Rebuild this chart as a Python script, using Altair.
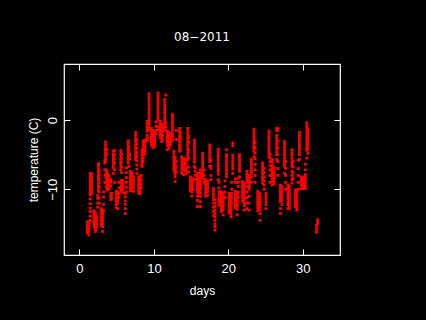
import altair as alt
import pandas as pd

x_ticks = [0, 10, 20, 30]
y_ticks = [0, -10]

column_days = [
 1.05, 1.25, 1.45, 1.45, 1.65, 1.95, 2.15, 2.3, 2.45, 2.55,
 2.65, 2.9, 3.1, 3.25, 3.4, 3.5, 3.6, 3.7, 3.95, 4.2,
 4.3, 4.55, 4.7, 4.95, 5.15, 5.3, 5.55, 5.65, 5.6, 5.85,
 6.15, 6.3, 6.55, 6.65, 6.75, 6.85, 7.05, 7.25, 7.55, 7.7,
 7.95, 8.15, 8.3, 8.4, 8.55, 8.8, 9.1, 9.35, 9.65, 9.85,
 10.1, 10.3, 10.55, 10.85, 11.05, 11.2, 11.45, 11.6, 11.8, 12.0,
 12.25, 12.5, 12.7, 12.85, 13.0, 13.45, 13.55, 13.75, 14.0, 14.3,
 14.55, 14.65, 14.9, 15.1, 15.25, 15.45, 15.55, 15.85, 16.05, 16.25,
 16.55, 16.75, 16.95, 17.2, 17.5, 17.65, 18.0, 18.2, 18.65, 18.75,
 19.05, 19.3, 19.55, 19.75, 20.1, 20.35, 20.45, 20.6, 20.95, 21.2,
 21.3, 21.5, 21.9, 22.15, 22.5, 22.8, 23.1, 23.45, 23.6, 23.95,
 24.25, 24.6, 24.8, 25.05, 25.45, 25.6, 25.9, 26.15, 26.5, 26.65,
 27.0, 27.2, 27.55, 27.7, 28.0, 28.2, 28.55, 28.7, 29.0, 29.2,
 29.4, 29.55, 29.8, 30.0, 30.2, 30.35, 30.55, 30.7, 31.85, 32.0,
]
column_temps = [
 [-14.7,-15.1,-15.5,-15.9,-16.3],
 [-14.9,-15.3,-15.7,-16.1,-16.6],
 [-10.8,-11.4,-12.1,-12.7,-13.2,-13.9,-14.5],
 [-7.7,-8.1,-8.5,-8.9,-9.3,-9.7,-10.1,-10.5],
 [-7.8,-8.2,-8.6,-9.0,-9.4,-9.8,-10.2,-10.6],
 [-13.1,-13.5,-13.9,-14.3,-14.7,-15.1,-15.5],
 [-13.4,-13.8,-14.2,-14.6,-15.0,-15.4,-15.8,-16.1],
 [-14.0,-14.5,-15.0,-15.5],
 [-10.9,-11.3,-12.0,-12.6],
 [-6.3,-6.7,-7.1,-7.5,-7.9,-8.3,-8.7,-9.1,-9.5,-9.9,-10.3],
 [-7.4,-7.9,-8.4,-9.0,-9.6,-10.4,-11.3,-12.0],
 [-12.8,-13.2,-13.6,-14.0,-14.4,-14.8,-15.2],
 [-13.0,-13.4,-13.8,-14.2,-14.6,-15.0,-15.4,-16.1],
 [-10.4,-11.1,-12.2,-13.1],
 [-5.8,-6.2,-7.2,-8.0,-9.0],
 [-3.2,-3.6,-4.0,-4.4,-4.8,-5.2,-5.6,-6.0],
 [-7.2,-7.7,-8.4,-9.1,-9.7],
 [-4.3,-4.9,-7.4,-7.8,-8.2,-8.6,-9.0,-9.4,-9.8,-10.1],
 [-8.0,-8.4,-8.8,-9.2,-9.6,-10.0],
 [-8.6,-9.0,-9.5,-10.6,-11.0,-11.5],
 [-10.6,-11.0,-11.4],
 [-4.5,-4.9,-5.3,-5.7,-6.1,-6.5,-6.9,-7.7],
 [-4.4,-5.0,-5.6,-6.2,-7.2,-9.0],
 [-10.3,-10.7,-11.1,-11.5,-11.9,-12.3,-12.7],
 [-10.4,-10.8,-11.2,-11.6,-12.0,-12.8],
 [-9.0,-9.8,-10.6,-11.2],
 [-4.4,-4.8,-5.2,-5.6,-6.0,-6.4,-6.8,-7.2],
 [-5.0,-5.5,-6.1,-6.8,-7.6],
 [-8.7,-9.1,-9.5,-9.9,-10.3],
 [-8.8,-9.2,-9.6,-10.0,-10.5],
 [-10.6,-11.1,-11.7,-12.2,-12.8,-13.5],
 [-6.9,-7.6,-8.3,-9.0,-9.7,-10.4],
 [-3.0,-3.4,-3.8,-4.2,-4.6,-5.0,-5.4,-5.8,-6.2],
 [-4.0,-4.6,-5.2,-6.7],
 [-5.0,-5.6],
 [-7.4,-7.8,-8.2,-8.6,-9.0,-9.4,-9.8,-10.2],
 [-7.6,-8.0,-8.4,-8.8,-9.2,-9.6,-10.1],
 [-8.2,-8.6,-9.0,-9.4,-9.8,-10.3],
 [-1.8,-2.2,-2.6,-3.0,-3.4,-3.8,-4.2,-4.6,-5.0,-5.4,-5.7],
 [-2.9,-3.5,-4.1,-4.7,-5.3,-5.9,-6.5,-7.1,-7.7],
 [-8.2,-8.6,-9.0,-9.4,-9.8,-10.2,-10.6],
 [-8.3,-8.7,-9.1,-9.5,-9.9,-10.3,-10.6],
 [-8.0,-8.6,-9.2,-9.8],
 [-4.4,-4.8,-5.2,-5.6,-6.0,-6.4,-6.7],
 [-3.0,-3.4,-3.8,-4.2,-4.6,-5.0,-5.5,-6.0],
 [-2.9,-3.3,-3.7,-4.1,-4.5,-4.9],
 [-0.2,-0.6,-1.0,-1.4,-1.6,-2.2,-2.6,-3.0],
 [3.8,3.4,3.0,2.6,2.2,1.8,1.4,1.0,0.6,0.2,-0.2,-0.6,-1.0,-1.4],
 [-1.2,-1.6,-2.0,-2.4,-2.8,-3.2,-3.6],
 [-1.5,-1.9,-2.3,-2.7,-3.1,-3.5,-4.0],
 [-1.8,-2.2,-2.6,-3.0,-3.4,-3.8],
 [-0.3,-0.9,-1.5,-2.0],
 [3.9,3.5,3.1,2.7,2.3,1.9,1.5,1.1,0.7,0.3,0.0,-1.0,-1.4],
 [-0.2,-0.6,-1.0,-1.4,-1.8,-2.2,-2.6],
 [-0.6,-1.0,-1.4,-1.8,-2.2,-2.6,-3.1],
 [-1.0,-1.6,-2.2,-2.8],
 [3.0,2.6,2.2,1.8,1.4,1.0,0.6,0.2,-0.2,-0.6,-1.0,-1.4],
 [3.6,-0.4,-1.0],
 [-1.6,-2.0,-2.4,-2.8,-3.2,-3.6,-4.3],
 [-1.8,-2.2,-2.6,-3.0,-3.4,-3.8,-4.1],
 [-2.0,-2.4,-2.8,-3.2,-3.6],
 [0.8,0.4,0.0,-0.4,-0.8,-1.2,-1.6,-2.0,-2.4,-2.9],
 [-4.5,-4.9,-5.3,-5.7,-6.1,-6.5,-6.9,-7.3],
 [-5.4,-5.8,-6.2,-6.6,-7.0,-7.4,-7.8,-8.2,-8.9],
 [-1.5,-2.8,-6.0,-6.8,-7.5],
 [-1.2,-1.6,-2.0,-2.4,-2.8,-3.2,-3.6,-4.0,-4.5],
 [-1.8,-2.4,-3.0,-3.7,-4.4],
 [-5.3,-5.7,-6.1,-6.5,-6.9,-7.3,-7.7],
 [-5.6,-6.0,-6.4,-6.8,-7.2,-7.9],
 [-5.7,-6.1,-6.5,-6.9,-7.3,-7.7],
 [-1.2,-1.6,-2.0,-2.4,-2.8,-3.2,-3.6,-4.0,-4.4,-4.8,-5.2,-5.7],
 [-2.4,-3.2,-4.3,-5.5,-6.8,-7.5],
 [-8.2,-8.6,-9.0,-9.4,-9.8,-10.2],
 [-8.4,-8.8,-9.2,-9.6,-10.0,-10.4,-11.0],
 [-8.5,-9.0,-9.5,-10.0],
 [-2.9,-3.3,-3.7,-4.1,-4.5,-4.9,-5.3,-5.7,-6.1,-6.7],
 [-6.9,-7.4,-8.0,-8.6],
 [-7.7,-8.1,-8.5,-8.9,-9.3,-9.7,-10.1,-10.5,-11.0,-11.6,-12.5],
 [-8.4,-8.8,-9.2,-9.6,-10.0,-10.4,-10.9],
 [-7.2,-7.6,-8.0,-8.4,-8.8,-9.2,-9.6,-10.0,-10.5,-11.0,-11.8,-12.5],
 [-4.8,-5.2,-5.6,-6.0,-6.4,-6.8,-7.2,-7.6,-8.0,-8.4],
 [-7.2,-8.0,-8.8,-9.1],
 [-8.6,-9.0,-9.4,-9.8,-10.2,-10.6,-11.0],
 [-8.8,-9.2,-9.6,-10.0,-10.4,-10.9],
 [-3.6,-4.0,-4.4,-4.8,-5.2,-5.6,-6.0,-6.7],
 [-5.8,-6.6,-7.0,-8.0,-8.6],
 [-9.9,-10.3,-10.7,-11.1,-11.5,-12.0,-12.6,-13.2,-13.8],
 [-11.5,-12.0,-12.5,-13.0,-13.5,-14.0,-14.5,-15.0,-15.4,-15.9],
 [-4.2,-4.6,-5.0,-5.4,-5.8,-6.2,-6.6,-7.0,-7.4,-7.8,-8.6],
 [-9.0,-9.8,-10.3,-10.7,-11.1,-11.5,-11.9,-12.3],
 [-10.4,-10.8,-11.2,-11.6,-12.0,-12.4,-12.8,-13.2],
 [-10.6,-11.0,-11.4,-11.8,-12.2,-12.6,-13.0,-13.7],
 [-8.8,-9.6,-10.4,-11.2],
 [-4.3,-5.0,-5.4,-5.8,-6.2,-6.6,-7.0,-7.4,-7.8,-8.2],
 [-10.6,-11.0,-11.4,-11.8,-12.2,-12.6,-13.0,-13.4],
 [-10.8,-11.2,-11.6,-12.0,-12.4,-12.8,-13.2,-13.6,-14.0],
 [-9.0,-10.0,-10.6,-11.2,-12.0],
 [-3.3,-3.7,-5.1,-5.5,-5.9,-6.3,-6.7,-7.1,-7.7],
 [-8.5,-9.0,-10.3,-10.7,-11.1,-11.5,-11.9,-12.3,-12.7],
 [-10.5,-10.9,-11.3,-11.7,-12.1,-12.5,-12.9,-13.7],
 [-8.4,-9.0,-9.6,-10.4,-11.2],
 [-5.0,-5.4,-5.8,-6.2,-6.6,-7.0,-7.4,-8.2],
 [-8.9,-9.3,-9.7,-10.1,-10.5,-10.9,-11.3,-11.7],
 [-9.2,-9.6,-10.0,-10.4,-10.8,-11.2,-11.6,-12.0,-12.4,-13.0],
 [-7.4,-7.8,-8.2,-8.6,-9.0,-9.6,-10.4,-11.2,-12.0,-12.8],
 [-8.0,-8.4,-8.8,-9.2,-9.6,-10.0,-11.0,-12.0,-13.0],
 [-5.7,-6.1,-6.5,-6.9,-7.3,-7.7,-8.2,-9.0],
 [-1.3,-1.7,-2.1,-2.5,-2.9,-3.3,-3.7,-4.1,-4.5,-5.3],
 [-3.2,-4.0,-4.8,-5.6,-6.4,-7.2,-8.0,-9.0],
 [-10.3,-10.7,-11.1,-11.5,-11.9,-12.3,-12.7,-13.1],
 [-10.6,-11.0,-11.4,-11.8,-12.2,-12.6,-13.0,-13.5,-14.5],
 [-6.2,-6.6,-7.0,-7.4,-7.8,-8.2,-8.6,-9.1],
 [-7.0,-7.6,-8.2,-8.8,-9.4,-10.0],
 [-10.6,-11.0,-11.4,-11.8,-12.2,-12.8],
 [-1.6,-2.0,-2.4,-2.8,-3.2,-3.6,-4.0,-4.4,-4.8,-5.3],
 [-5.0,-5.5,-6.0,-6.6,-7.2,-8.0,-9.0],
 [-5.7,-6.1,-6.5,-6.9,-7.3,-7.7,-8.1,-8.5,-8.9,-9.4],
 [-6.8,-7.2,-7.6,-8.0,-8.4,-8.8,-9.2],
 [-1.2,-1.5,-2.2,-2.6,-3.0,-3.4,-3.8,-4.2,-4.6,-5.0,-5.7],
 [-1.2,-1.5,-3.0,-4.0,-5.0,-6.0,-7.0,-8.0],
 [-9.4,-9.8,-10.2,-10.6,-11.0,-11.4,-11.8,-12.8,-13.5],
 [-9.6,-10.0,-10.4,-10.8,-11.2,-11.6,-12.2],
 [-3.1,-3.5,-3.9,-4.3,-4.7,-5.1,-5.5,-5.9,-6.3,-6.7,-7.7],
 [-6.0,-7.0,-8.0,-9.0,-10.0],
 [-9.4,-9.8,-10.2,-10.6,-11.0,-11.4,-11.8,-12.2,-12.8],
 [-9.6,-10.0,-10.4,-10.8,-11.2,-11.6,-12.0,-12.4,-12.8],
 [-4.3,-4.7,-5.1,-5.5,-5.9,-6.3,-6.7,-7.4,-8.0,-8.6,-9.1],
 [-6.0,-6.8,-7.6,-8.4],
 [-10.1,-10.5,-10.9,-11.3,-11.7,-12.1,-12.5],
 [-10.3,-10.7,-11.1,-11.5,-11.9,-12.3,-12.7,-13.0],
 [-5.8,-7.0,-8.0,-9.0,-10.0],
 [-1.8,-2.2,-2.6,-3.0,-3.4,-3.8,-4.2,-4.6,-5.0,-5.7],
 [-8.2,-8.6,-9.0,-9.4,-9.9],
 [-8.3,-8.7,-9.1,-9.5,-9.9],
 [-8.4,-8.8,-9.2,-9.6,-9.9],
 [-6.4,-7.2,-7.9,-8.3,-8.7,-9.1,-9.5,-9.9],
 [-0.4,-0.8,-1.2,-1.6,-2.0,-2.4,-2.8,-3.2,-3.6,-4.0,-4.4,-5.5],
 [-1.4,-1.8,-2.2,-2.6,-3.0,-3.4,-3.8,-4.2,-4.8],
 [-15.2,-15.6,-16.0,-16.2],
 [-14.4,-14.7,-15.0],
]
pairs = [(d, t) for d, col in zip(column_days, column_temps) for t in col]
data = pd.DataFrame(pairs, columns=["day", "temp"])

xs = alt.Scale(domain=[-2.08, 35.0], nice=False, zero=False)
ys = alt.Scale(domain=[-19.5, 8.1], nice=False, zero=False)
font = "Liberation Sans"
common = dict(grid=False, domain=False, tickColor="white", tickSize=6, tickWidth=1,
              offset=-6, labelColor="white", titleColor="white", labelFont=font, titleFont=font,
              labelFontSize=13, titleFontSize=12, titleFontWeight="normal")

points = alt.Chart(data).mark_square(color="#ff0000", size=8, opacity=1).encode(
    x=alt.X("day:Q", scale=xs, axis=alt.Axis(values=x_ticks, title="days", orient="bottom",
            labelPadding=7, titlePadding=10, labelFlush=False, **common)),
    y=alt.Y("temp:Q", scale=ys, axis=alt.Axis(values=y_ticks, title="temperature (C)", orient="left",
            labelAngle=-90, labelAlign="center", labelBaseline="bottom", labelPadding=5, titlePadding=6, **common)),
)
frame = alt.Chart(data).mark_point(opacity=0).encode(
    x=alt.X("day:Q", scale=xs, axis=alt.Axis(values=x_ticks, title=None, orient="top", labels=False,
            grid=False, domain=False, tickColor="white", tickSize=6, offset=-6)),
    y=alt.Y("temp:Q", scale=ys, axis=alt.Axis(values=y_ticks, title=None, orient="right", labels=False,
            grid=False, domain=False, tickColor="white", tickSize=6, offset=-6)),
)
chart = alt.layer(points, frame).resolve_axis(x="independent", y="independent").properties(
    width=276, height=191, background="black",
    padding={"left": 56, "top": 56, "right": 78, "bottom": 57},
    autosize=alt.AutoSizeParams(type="none"),
    title=alt.TitleParams("08\u22122011", color="white", font="DejaVu Sans", fontSize=12, fontWeight="normal",
                          anchor="middle", offset=20),
).configure_view(stroke="white", strokeWidth=1.2, fill="black")
chart.save("out.html", embed_options={"renderer": "svg", "actions": False,
                                      "defaultStyle": "html,body{background:#000}"})
